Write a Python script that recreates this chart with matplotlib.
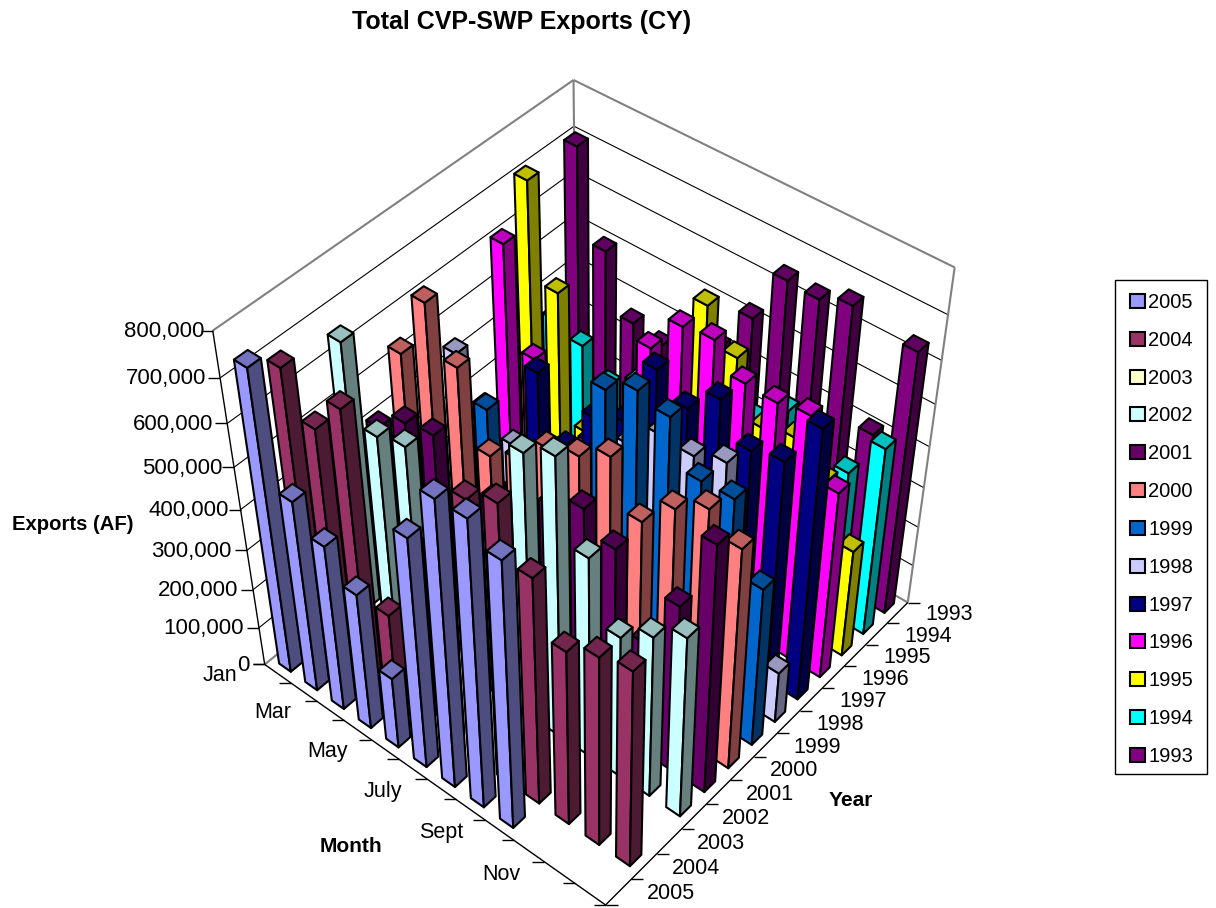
import numpy as np
import matplotlib
matplotlib.use('Agg')
import matplotlib.pyplot as plt
from matplotlib.collections import PolyCollection
from matplotlib.colors import to_rgb
from matplotlib.patches import Patch, Rectangle

plt.rcParams['font.family'] = ['Liberation Sans', 'DejaVu Sans']
nan = float('nan')

# Monthly exports in acre-feet, Jan..Dec, one list per calendar year
exports_2005 = [737000, 479000, 418000, 347000, 184000, 574000, 705000, 707000, 662000, nan, nan, nan]
exports_2004 = [690000, 595000, 680000, 238000, 450000, 500000, 651000, 687000, 567000, 444000, 481000, 499000]
exports_2003 = [nan] * 12
exports_2002 = [654000, 479000, 497000, 300000, 330000, 400000, 651000, 686000, 502000, 360000, 410000, 458000]
exports_2001 = [410000, 462000, 474000, 350000, 400000, 420000, 477000, 517000, 468000, 285000, 426000, 615000]
exports_2000 = [536000, 688000, 582000, 417000, 450000, 518000, 543000, 584000, 478000, 552000, 596000, 551000]
exports_1999 = [350000, 280000, 437000, 283000, 400000, 450000, 643000, 681000, 664000, 563000, 566000, 401000]
exports_1998 = [444000, 350000, 300000, 200000, 220000, 280000, 468000, 532000, 527000, 554000, 230000, 131000]
exports_1997 = [200000, 123000, 429000, 288000, 400000, 432000, 594000, 545000, 606000, 530000, 548000, 663000]
exports_1996 = [610000, 377000, 185000, 249000, 300000, 557000, 643000, 652000, 594000, 590000, 602000, 467000]
exports_1995 = [710000, 490000, 185000, 250000, 350000, 450000, 645000, 566000, 440000, 459000, 400000, 272000]
exports_1994 = [345000, 318000, 258000, 300000, 350000, 420000, 380000, 375000, 435000, 350000, 369000, 469000]
exports_1993 = [706000, 502000, 366000, 348000, 400000, 420000, 527000, 649000, 644000, 667000, 411000, 641000]

years = [2005, 2004, 2003, 2002, 2001, 2000, 1999, 1998, 1997, 1996, 1995, 1994, 1993]
series = [exports_2005, exports_2004, exports_2003, exports_2002, exports_2001, exports_2000, exports_1999,
          exports_1998, exports_1997, exports_1996, exports_1995, exports_1994, exports_1993]
colors = ['#9999FF', '#993366', '#FFFFCC', '#CCFFFF', '#660066', '#FF8080', '#0066CC',
          '#CCCCFF', '#000080', '#FF00FF', '#FFFF00', '#00FFFF', '#800080']
month_ticks = {0: 'Jan', 2: 'Mar', 4: 'May', 6: 'July', 8: 'Sept', 10: 'Nov'}
value_ticks = list(range(0, 800001, 100000))
value_label_gap = [15, 15, 15, 15, 12, 12, 14, 14, 8]
n_months, n_years = 12, len(years)
z_max = 800000.0
bar_width = 0.45

# Camera: solve a 3x4 projective matrix from where the plot box corners land on the canvas
box_anchors = [((0, 0, 0), (265, 665)), ((0, 0, 1), (213, 330)),
               ((n_months, 0, 0), (605, 905)), ((n_months, n_years, 0), (908, 602)),
               ((n_months, n_years, 1), (955, 268)), ((0, n_years, 1), (573, 80))]
rows = []
for (a, b, c), (u, v) in box_anchors:
    rows.append([a, b, c, 1, 0, 0, 0, 0, -u * a, -u * b, -u * c, -u])
    rows.append([0, 0, 0, 0, a, b, c, 1, -v * a, -v * b, -v * c, -v])
camera = np.linalg.svd(np.array(rows, float))[2][-1].reshape(3, 4)


def project(month, year, value):
    h = camera @ np.array([month, year, value / z_max, 1.0])
    return h[:2] / h[2]


fig = plt.figure(figsize=(12.16, 9.08), dpi=100, facecolor='white')
ax = fig.add_axes([0, 0, 1, 1])
ax.set_xlim(0, 1216)
ax.set_ylim(908, 0)
ax.axis('off')


def seg(p, q, **kw):
    ax.plot([p[0], q[0]], [p[1], q[1]], solid_capstyle='butt', clip_on=False, zorder=1, **kw)


# Wall gridlines
for val in value_ticks[1:-1]:
    seg(project(0, 0, val), project(0, n_years, val), color='black', lw=0.8)
    seg(project(0, n_years, val), project(n_months, n_years, val), color='black', lw=0.8)
seg(project(0, 0, 0), project(0, n_years, 0), color='#808080', lw=1.5)
seg(project(0, n_years, 0), project(n_months, n_years, 0), color='#808080', lw=1.5)
# Wall outline
for p, q in [((0, 0, z_max), (0, n_years, z_max)), ((0, n_years, z_max), (n_months, n_years, z_max)),
             ((n_months, n_years, z_max), (n_months, n_years, 0)), ((0, n_years, z_max), (0, n_years, 0))]:
    seg(project(*p), project(*q), color='#808080', lw=1.5)
# Front axes
seg(project(0, 0, 0), project(0, 0, z_max), color='black', lw=1.0)
seg(project(0, 0, 0), project(n_months, 0, 0), color='black', lw=1.0)
seg(project(n_months, 0, 0), project(n_months, n_years, 0), color='black', lw=1.0)

# Tick marks and tick labels
tick_px = 12
for val, gap in zip(value_ticks, value_label_gap):
    p = project(0, 0, val)
    seg((p[0] - tick_px, p[1]), p, color='black', lw=1.0)
    ax.text(p[0] - gap, p[1] + 1, f'{val:,}', ha='right', va='center', fontsize=16, zorder=500)
for m in range(n_months + 1):
    p = project(m, 0, 0)
    seg((p[0] - tick_px, p[1]), p, color='black', lw=1.0)
    if m in month_ticks:
        t = project(m + 0.5, 0, 0)
        ax.text(t[0] - 58, t[1] + 2, month_ticks[m], ha='center', va='center', fontsize=15.5)
for i in range(n_years + 1):
    p = project(n_months, i, 0)
    seg(p, (p[0] + tick_px, p[1]), color='black', lw=1.0)
    if i < n_years:
        t = project(n_months, i + 0.5, 0)
        ax.text(t[0] + 52, t[1] + 2, str(years[i]), ha='center', va='center', fontsize=15.5)

# Bars, painted from the far corner towards the viewer
half = bar_width / 2
layer = 3
for i in range(n_years - 1, -1, -1):
    base = np.array(to_rgb(colors[i]))
    for m in range(n_months):
        val = series[i][m]
        if np.isnan(val):
            continue
        x0, x1 = m + 0.5 - half, m + 0.5 + half
        y0, y1 = i + 0.5 - half, i + 0.5 + half
        left = [project(x0, y0, 0), project(x1, y0, 0), project(x1, y0, val), project(x0, y0, val)]
        right = [project(x1, y0, 0), project(x1, y1, 0), project(x1, y1, val), project(x1, y0, val)]
        top = [project(x0, y0, val), project(x1, y0, val), project(x1, y1, val), project(x0, y1, val)]
        ax.add_collection(PolyCollection([left, right, top], facecolors=[base, base * 0.5, base * 0.75],
                                         edgecolors='black', linewidths=1.5, joinstyle='round', zorder=layer))
        layer += 1

# Titles
ax.text(522, 22, 'Total CVP-SWP Exports (CY)', ha='center', va='center', fontsize=18, fontweight='bold')
ax.text(73, 524, 'Exports (AF)', ha='center', va='center', fontsize=14.6, fontweight='bold')
ax.text(351, 847, 'Month', ha='center', va='center', fontsize=15, fontweight='bold')
ax.text(851, 800, 'Year', ha='center', va='center', fontsize=15, fontweight='bold')

ax.add_patch(Rectangle((1115, 280), 92, 494, facecolor='white', edgecolor='black', linewidth=1.0, zorder=400))
handles = [Patch(facecolor=c, edgecolor='black', linewidth=1.5, label=str(y)) for y, c in zip(years, colors)]
legend = ax.legend(handles=handles, loc='upper left', bbox_to_anchor=(1130, 293), bbox_transform=ax.transData,
                   borderaxespad=0, fontsize=14.5, frameon=False, handlelength=0.75, handleheight=0.7,
                   handletextpad=0.15, labelspacing=0.935, borderpad=0)
legend.set_zorder(401)

fig.savefig('out.png', dpi=100)
